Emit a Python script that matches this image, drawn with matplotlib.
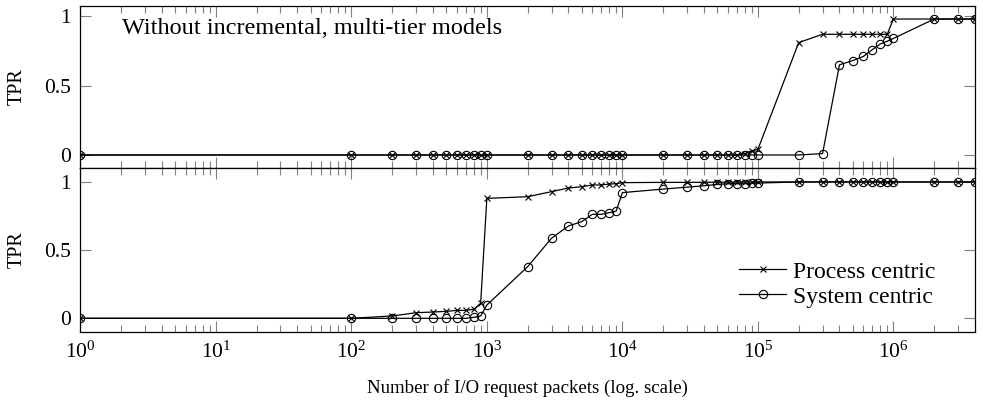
import numpy as np
import matplotlib
matplotlib.use("Agg")
import matplotlib.pyplot as plt
from matplotlib.ticker import LogLocator, NullFormatter, FixedLocator

plt.rcParams['font.family'] = ['Liberation Serif', 'DejaVu Serif']
plt.rcParams['mathtext.fontset'] = 'custom'
plt.rcParams['mathtext.rm'] = 'Liberation Serif'
plt.rcParams['mathtext.it'] = 'Liberation Serif:italic'
plt.rcParams['font.size'] = 14

# number of I/O request packets
packets = [1,
           100, 200, 300, 400, 500, 600, 700, 800, 900,
           1e3, 2e3, 3e3, 4e3, 5e3, 6e3, 7e3, 8e3, 9e3,
           1e4, 2e4, 3e4, 4e4, 5e4, 6e4, 7e4, 8e4, 9e4,
           1e5, 2e5, 3e5, 4e5, 5e5, 6e5, 7e5, 8e5, 9e5,
           1e6, 2e6, 3e6, 4e6]

# top panel: without incremental, multi-tier models
process_top = [0,
               0, 0, 0, 0, 0, 0, 0, 0, 0,
               0, 0, 0, 0, 0, 0, 0, 0, 0,
               0, 0, 0, 0, 0, 0, 0, 0.01, 0.03,
               0.04, 0.81, 0.87, 0.87, 0.87, 0.87, 0.87, 0.87, 0.87,
               0.98, 0.98, 0.98, 0.98]
system_top = [0,
              0, 0, 0, 0, 0, 0, 0, 0, 0,
              0, 0, 0, 0, 0, 0, 0, 0, 0,
              0, 0, 0, 0, 0, 0, 0, 0, 0,
              0, 0, 0.01, 0.65, 0.68, 0.71, 0.76, 0.80, 0.82,
              0.84, 0.98, 0.98, 0.98]

# bottom panel
process_bot = [0,
               0, 0.017, 0.041, 0.046, 0.051, 0.058, 0.058, 0.066, 0.11,
               0.878, 0.89, 0.927, 0.954, 0.963, 0.976, 0.976, 0.983, 0.985,
               0.993, 0.995, 0.995, 0.996, 0.996, 0.997, 0.997, 0.997, 0.997,
               0.998, 0.998, 0.998, 0.998, 0.998, 0.998, 0.998, 0.998, 0.998,
               0.998, 0.998, 0.998, 0.998]
system_bot = [0,
              0, 0, 0, 0, 0, 0, 0, 0.007, 0.017,
              0.097, 0.378, 0.586, 0.676, 0.707, 0.761, 0.761, 0.773, 0.785,
              0.92, 0.946, 0.96, 0.97, 0.98, 0.985, 0.985, 0.985, 0.987,
              0.99, 0.998, 0.998, 0.998, 0.998, 0.998, 0.998, 0.998, 0.998,
              0.998, 0.998, 0.998, 0.998]

W, H = 983, 407
fig = plt.figure(figsize=(W / 100, H / 100), dpi=100)

left = 80.3 / W
width = (975 - 80.3) / W
ax_top = fig.add_axes([left, 1 - 168.3 / H, width, (168.3 - 5.7) / H])
ax_bot = fig.add_axes([left, 1 - 331.7 / H, width, (331.7 - 168.3) / H])


def style_axis(ax):
    ax.set_xscale('log')
    ax.set_xlim(1, 4e6)
    ax.xaxis.set_major_locator(FixedLocator([10.0 ** k for k in range(7)]))
    ax.xaxis.set_minor_locator(LogLocator(base=10, subs=np.arange(2, 10), numticks=100))
    ax.xaxis.set_minor_formatter(NullFormatter())
    ax.yaxis.set_major_locator(FixedLocator([0, 0.5, 1]))
    ax.set_yticklabels(['0', '0.5', '1'])
    ax.tick_params(which='both', direction='in', top=True, right=True,
                   color='0.5', width=0.8, labelsize=15.5)
    ax.tick_params(which='major', length=8)
    ax.tick_params(which='minor', length=5)
    ax.tick_params(axis='y', pad=7)
    for sp in ax.spines.values():
        sp.set_linewidth(0.9)
    ax.set_ylabel('TPR', labelpad=12, fontsize=14.5)


line_kw = dict(color='black', linewidth=0.9)
ax_top.plot(packets, process_top, marker='x', markersize=5, markeredgewidth=0.8,
            **line_kw)
ax_top.plot(packets, system_top, marker='o', markersize=6, markerfacecolor='none',
            markeredgewidth=0.8, **line_kw)
style_axis(ax_top)
ax_top.set_ylim(-0.096, 1.076)
ax_top.tick_params(axis='x', labelbottom=False)
ax_top.text(0.047, 0.86, 'Without incremental, multi-tier models',
            transform=ax_top.transAxes, ha='left', va='center', fontsize=17.5)

ax_bot.plot(packets, process_bot, marker='x', markersize=5, markeredgewidth=0.8,
            label='Process centric', **line_kw)
ax_bot.plot(packets, system_bot, marker='o', markersize=6, markerfacecolor='none',
            markeredgewidth=0.8, label='System centric', **line_kw)
style_axis(ax_bot)
ax_bot.set_ylim(-0.098, 1.098)
ax_bot.tick_params(axis='x', pad=7)
ax_bot.set_xlabel('Number of I/O request packets (log. scale)', labelpad=12,
                  fontsize=13.6)
ax_bot.legend(loc='center right', bbox_to_anchor=(0.956, 0.29), frameon=False,
              borderaxespad=0, borderpad=0, handlelength=2.0,
              handletextpad=0.3, labelspacing=0.15, fontsize=17)

fig.align_ylabels([ax_top, ax_bot])
fig.savefig('out.png', dpi=100)
